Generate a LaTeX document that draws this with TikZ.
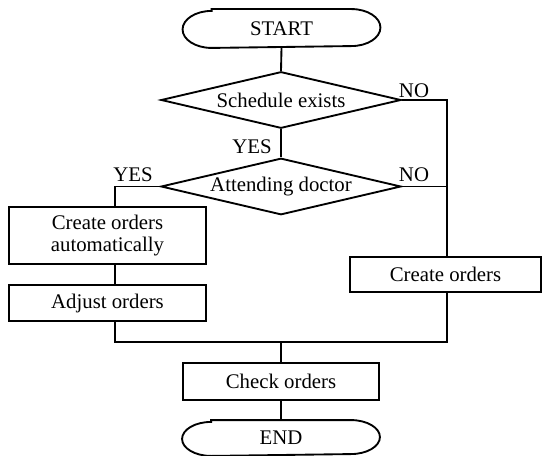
\documentclass[tikz,border=0pt]{standalone}
\usepackage{fontspec}
\setmainfont{Liberation Serif}
\usetikzlibrary{shapes.geometric}
\begin{document}
\begin{tikzpicture}[x=0.75pt,y=-0.75pt, line width=1.4pt,
  every node/.style={font=\fontsize{15.6}{16.5}\selectfont},
  box/.style={draw, rectangle, inner sep=0pt, align=center},
  dec/.style={draw, diamond, inner sep=0pt, aspect=4, minimum width=180pt, minimum height=42.4pt},
  term/.style={rectangle, inner sep=0pt, minimum width=147pt},
  lab/.style={inner sep=0pt}]
\useasboundingbox (0,0) rectangle (542,456);
% nodes
\node[term, minimum height=27.75pt] (start) at (281.5,28.5) {START};
\node[dec] (d1) at (281,100) {Schedule exists};
\node[dec] (d2) at (281,186.5) {Attending doctor};
\node[box, minimum width=147.75pt, minimum height=42.75pt] (auto) at (107.5,235.5) {Create orders\\automatically};
\node[box, minimum width=147.75pt, minimum height=27pt] (adjust) at (107.5,303) {Adjust orders};
\node[box, minimum width=143.25pt, minimum height=26.25pt] (create) at (445.5,274.5) {Create orders};
\node[box, minimum width=147pt, minimum height=27.75pt] (check) at (281,381.5) {Check orders};
\node[term, minimum height=25.5pt] (end) at (281,438) {END};
% terminator outlines
\draw ([xshift=21.75pt]start.north west) -- ([xshift=-21.75pt]start.north east)
  arc[start angle=90,end angle=-90,x radius=21.75pt,y radius=13.875pt]
  -- ([xshift=21.75pt]start.south west)
  arc[start angle=270,end angle=90,x radius=21.75pt,y radius=13.875pt] -- cycle;
\draw ([xshift=21.75pt]end.north west) -- ([xshift=-21.75pt]end.north east)
  arc[start angle=90,end angle=-90,x radius=21.75pt,y radius=12.75pt]
  -- ([xshift=21.75pt]end.south west)
  arc[start angle=270,end angle=90,x radius=21.75pt,y radius=12.75pt] -- cycle;
% labels
\node[lab] (no1) at (414,91) {NO};
\node[lab] (yes1) at (252,147) {YES};
\node[lab] (yes2) at (133,175) {YES};
\node[lab] (no2) at (414,175) {NO};
% junction coordinates
\coordinate (rcol) at (447,342);
\coordinate (lcol) at (115,342);
\coordinate (mid) at (281,342);
% connectors
\draw (start.south) -- (d1.north);
\draw (d1.south) -- (d2.north);
\draw (d1.east) -| (create.north -| rcol);
\draw (d2.east) -- (d2.east -| rcol);
\draw (d2.west) -| (auto.north -| lcol);
\draw (auto.south -| lcol) -- (adjust.north -| lcol);
\draw (adjust.south -| lcol) -- (lcol) -- (rcol) -- (create.south -| rcol);
\draw (mid) -- (check.north);
\draw (check.south) -- (end.north);
\end{tikzpicture}
\end{document}
